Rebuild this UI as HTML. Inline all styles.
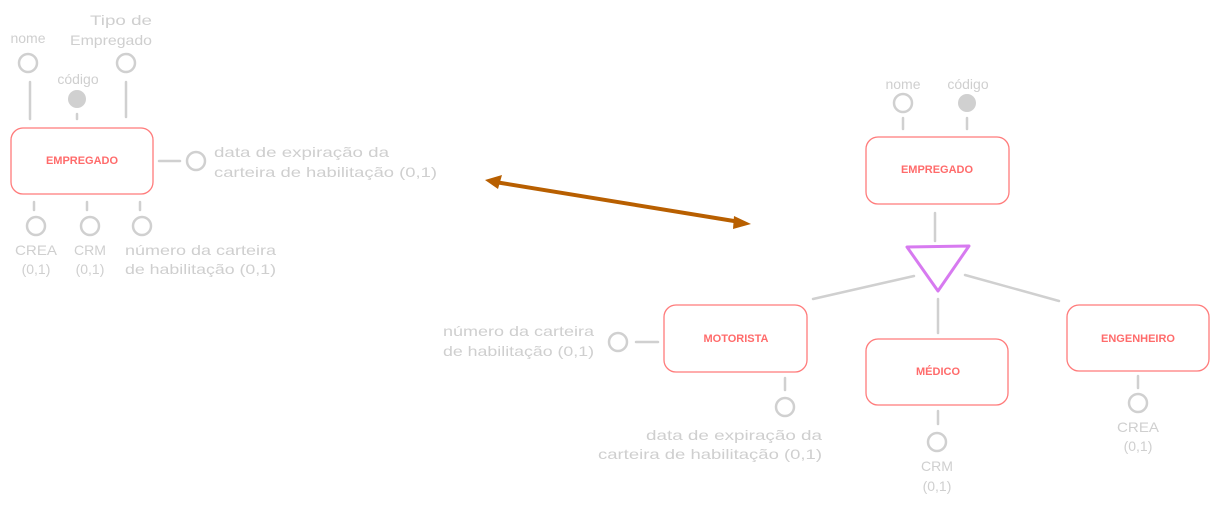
<!DOCTYPE html>
<html><head><meta charset="utf-8"><style>
html,body{margin:0;padding:0;background:#fff;width:1219px;height:507px;overflow:hidden}
svg{display:block}
.g{font-family:"Liberation Sans",sans-serif;font-size:14px;fill:#cfcfcf}
.r{font-family:"Liberation Sans",sans-serif;font-size:11px;fill:#ff6b6b;font-weight:bold}
.ln{stroke:#d0d0d0;stroke-width:2.5;fill:none;stroke-linecap:round}
.c{stroke:#d0d0d0;stroke-width:2.5;fill:#fff}
.b{stroke:#ff7b7b;stroke-width:1.3;fill:#fff}
</style></head><body>
<svg width="1219" height="507" viewBox="0 0 1219 507">
<!-- LEFT -->
<text class="g" x="28" y="43" text-anchor="middle">nome</text>
<text class="g" x="90" y="25" textLength="62" lengthAdjust="spacingAndGlyphs">Tipo de</text>
<text class="g" x="70" y="45" textLength="82" lengthAdjust="spacingAndGlyphs">Empregado</text>
<text class="g" x="78" y="84" text-anchor="middle">código</text>
<circle class="c" cx="28" cy="63" r="9"/>
<circle class="c" cx="126" cy="63" r="9"/>
<circle cx="77" cy="99" r="9" fill="#d0d0d0"/>
<line class="ln" x1="30" y1="82" x2="30" y2="119"/>
<line class="ln" x1="77" y1="114" x2="77" y2="119"/>
<line class="ln" x1="126" y1="82" x2="126" y2="117"/>
<rect class="b" x="11" y="128" width="142" height="66" rx="12"/>
<text class="r" x="82" y="164" text-anchor="middle">EMPREGADO</text>
<line class="ln" x1="159" y1="161" x2="180" y2="161"/>
<circle class="c" cx="196" cy="161" r="9"/>
<text class="g" x="214" y="157" textLength="175" lengthAdjust="spacingAndGlyphs">data de expiração da</text>
<text class="g" x="214" y="177" textLength="223" lengthAdjust="spacingAndGlyphs">carteira de habilitação (0,1)</text>
<line class="ln" x1="34" y1="202" x2="34" y2="210"/>
<line class="ln" x1="87" y1="202" x2="87" y2="210"/>
<line class="ln" x1="140" y1="202" x2="140" y2="210"/>
<circle class="c" cx="36" cy="226" r="9"/>
<circle class="c" cx="90" cy="226" r="9"/>
<circle class="c" cx="142" cy="226" r="9"/>
<text class="g" x="15" y="255" textLength="42" lengthAdjust="spacingAndGlyphs">CREA</text>
<text class="g" x="36" y="274" text-anchor="middle">(0,1)</text>
<text class="g" x="74" y="255" textLength="32" lengthAdjust="spacingAndGlyphs">CRM</text>
<text class="g" x="90" y="274" text-anchor="middle">(0,1)</text>
<text class="g" x="125" y="255" textLength="151" lengthAdjust="spacingAndGlyphs">número da carteira</text>
<text class="g" x="125" y="274" textLength="151" lengthAdjust="spacingAndGlyphs">de habilitação (0,1)</text>
<!-- ARROW -->
<line x1="495" y1="182" x2="740" y2="222" stroke="#b85f00" stroke-width="4" stroke-linecap="round"/>
<polygon points="485,180 502,175 498,189" fill="#b85f00"/>
<polygon points="751,224 734,216 733,229" fill="#b85f00"/>
<!-- RIGHT -->
<text class="g" x="903" y="89" text-anchor="middle">nome</text>
<text class="g" x="968" y="89" text-anchor="middle">código</text>
<circle class="c" cx="903" cy="103" r="9"/>
<circle cx="967" cy="103" r="9" fill="#d0d0d0"/>
<line class="ln" x1="903" y1="118" x2="903" y2="129"/>
<line class="ln" x1="967" y1="118" x2="967" y2="129"/>
<rect class="b" x="866" y="137" width="143" height="67" rx="12"/>
<text class="r" x="937" y="173" text-anchor="middle">EMPREGADO</text>
<line class="ln" x1="935" y1="213" x2="935" y2="241"/>
<polygon points="907,247 969,246 938,291" fill="none" stroke="#d77af0" stroke-width="3" stroke-linejoin="round"/>
<line class="ln" x1="914" y1="276" x2="813" y2="299"/>
<line class="ln" x1="965" y1="275" x2="1059" y2="301"/>
<line class="ln" x1="938" y1="299" x2="938" y2="333"/>
<rect class="b" x="664" y="305" width="143" height="67" rx="12"/>
<text class="r" x="736" y="342" text-anchor="middle">MOTORISTA</text>
<line class="ln" x1="636" y1="342" x2="658" y2="342"/>
<circle class="c" cx="618" cy="342" r="9"/>
<text class="g" x="443" y="336" textLength="151" lengthAdjust="spacingAndGlyphs">número da carteira</text>
<text class="g" x="443" y="356" textLength="151" lengthAdjust="spacingAndGlyphs">de habilitação (0,1)</text>
<line class="ln" x1="785" y1="378" x2="785" y2="390"/>
<circle class="c" cx="785" cy="407" r="9"/>
<text class="g" x="646" y="440" textLength="176" lengthAdjust="spacingAndGlyphs">data de expiração da</text>
<text class="g" x="598" y="459" textLength="224" lengthAdjust="spacingAndGlyphs">carteira de habilitação (0,1)</text>
<rect class="b" x="866" y="339" width="142" height="66" rx="12"/>
<text class="r" x="938" y="375" text-anchor="middle">MÉDICO</text>
<line class="ln" x1="938" y1="411" x2="938" y2="424"/>
<circle class="c" cx="937" cy="442" r="9"/>
<text class="g" x="921" y="471" textLength="32" lengthAdjust="spacingAndGlyphs">CRM</text>
<text class="g" x="937" y="491" text-anchor="middle">(0,1)</text>
<rect class="b" x="1067" y="305" width="142" height="66" rx="12"/>
<text class="r" x="1138" y="342" text-anchor="middle">ENGENHEIRO</text>
<line class="ln" x1="1138" y1="376" x2="1138" y2="388"/>
<circle class="c" cx="1138" cy="403" r="9"/>
<text class="g" x="1117" y="432" textLength="42" lengthAdjust="spacingAndGlyphs">CREA</text>
<text class="g" x="1138" y="451" text-anchor="middle">(0,1)</text>
</svg>
</body></html>
